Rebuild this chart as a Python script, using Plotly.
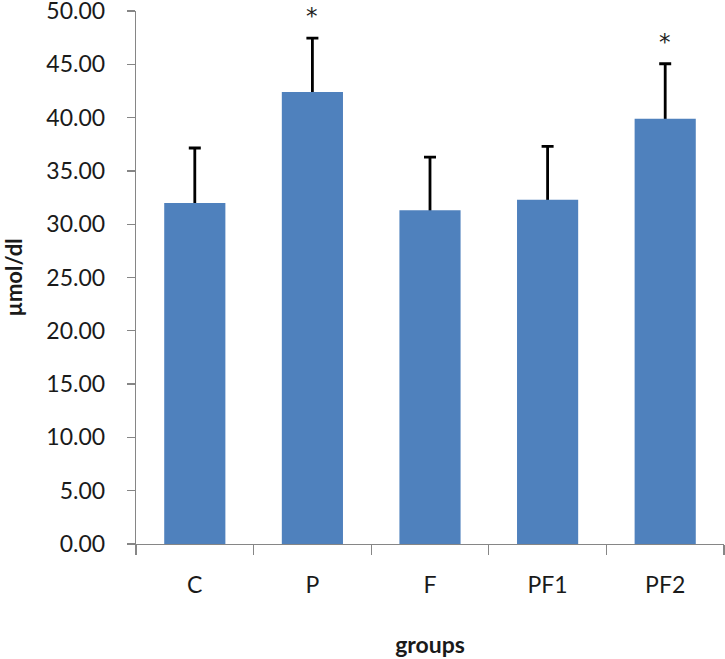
import plotly.graph_objects as go

groups = ["C", "P", "F", "PF1", "PF2"]
means = [32.0, 42.4, 31.3, 32.3, 39.9]
errors = [5.15, 5.05, 5.0, 5.0, 5.15]
significance = ["", "*", "", "", "*"]
y_ticks = [0, 5, 10, 15, 20, 25, 30, 35, 40, 45, 50]
y_tick_labels = [f"{v:.2f}" for v in y_ticks]

FONT = "Lato, 'Open Sans', sans-serif"
AXIS_GRAY = "#868686"
TXT = "#1a1a1a"
STEM_START = 0.3  # stem starts slightly inside the bar (hidden lower cap)

fig = go.Figure()
# error bars (drawn first, lower cap hidden behind the bars)
fig.add_trace(go.Bar(
    x=groups, y=[m - STEM_START for m in means], width=0.52,
    marker=dict(color="rgba(0,0,0,0)", line=dict(width=0)),
    error_y=dict(type="data", array=[e + STEM_START for e in errors],
                 arrayminus=[0] * len(errors), symmetric=False,
                 color="black", thickness=2.8, width=6),
    showlegend=False, hoverinfo="skip",
))
fig.add_trace(go.Bar(
    x=groups, y=means, width=0.52,
    marker=dict(color="#4F81BD", line=dict(width=0)),
    showlegend=False, hoverinfo="skip",
))

for g, m, e, s in zip(groups, means, errors, significance):
    if s:
        fig.add_annotation(x=g, y=m + e, text=s, showarrow=False,
                           yanchor="middle", yshift=22,
                           font=dict(family="DejaVu Sans", size=23, color="#222222"))

fig.update_layout(
    width=725, height=659,
    margin=dict(l=136, r=1, t=11, b=115),
    plot_bgcolor="white", paper_bgcolor="white",
    font=dict(family=FONT, size=23, color=TXT),
    barmode="overlay",
)
fig.update_xaxes(
    type="category", range=[-0.5, 4.5], tickson="boundaries", automargin=False,
    showline=True, linecolor=AXIS_GRAY, linewidth=1.3,
    ticks="outside", ticklen=10, tickcolor=AXIS_GRAY, tickwidth=1.3,
    ticklabelstandoff=20, showgrid=False, zeroline=False,
    tickfont=dict(family=FONT, size=23, color=TXT),
    title=dict(text="<b>groups</b>", standoff=40,
               font=dict(family=FONT, size=23, color=TXT)),
)
fig.update_yaxes(
    range=[0, 50], tickmode="array", tickvals=y_ticks, ticktext=y_tick_labels,
    automargin=False, ticklabeloverflow="allow",
    showline=True, linecolor=AXIS_GRAY, linewidth=1.3,
    ticks="outside", ticklen=8, tickcolor=AXIS_GRAY, tickwidth=1.3,
    ticklabelstandoff=17, showgrid=False, zeroline=False,
    tickfont=dict(family=FONT, size=23, color=TXT),
    title=dict(text="<b>µmol/dl</b>", standoff=20,
               font=dict(family=FONT, size=22, color=TXT)),
)

fig.write_html("out.html", config={"displayModeBar": False, "staticPlot": True},
               post_script="document.body.style.margin='0';document.body.style.overflow='hidden';")
